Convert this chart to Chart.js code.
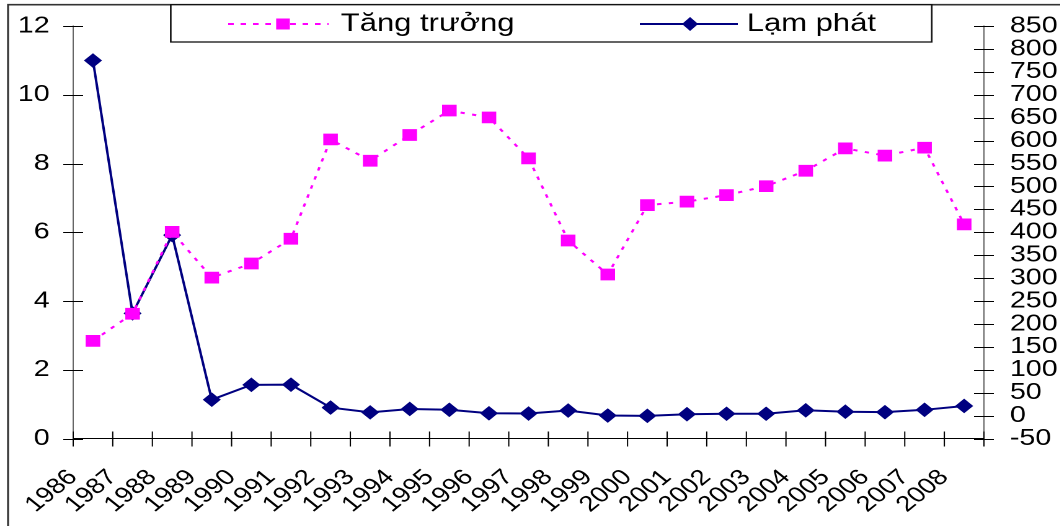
<!DOCTYPE html>
<html>
<head>
<meta charset="utf-8">
<script src="https://cdn.jsdelivr.net/npm/chart.js@4.4.1/dist/chart.umd.min.js"></script>
<style>
  html, body { margin: 0; padding: 0; background: #fff; overflow: hidden; }
  /* the chart is laid out narrower and widened horizontally, giving the wide lettering */
  #wrap { position: absolute; left: 0; top: 0; width: 855px; height: 526px;
          transform: scaleX(1.24); transform-origin: 0 0; }
  #c { display: block; }
</style>
</head>
<body>
<div id="wrap"><canvas id="c" width="855" height="526"></canvas></div>
<script>
// Years on the category axis
const years = ['1986','1987','1988','1989','1990','1991','1992','1993','1994','1995','1996',
               '1997','1998','1999','2000','2001','2002','2003','2004','2005','2006','2007','2008'];

// GDP growth, % (left axis)
const growth = [2.84, 3.63, 6.01, 4.68, 5.09, 5.81, 8.70, 8.08, 8.83, 9.54, 9.34,
                8.15, 5.76, 4.77, 6.79, 6.89, 7.08, 7.34, 7.79, 8.44, 8.23, 8.46, 6.23];

// Inflation, % (right axis)
const inflation = [774.7, 223.1, 393.8, 34.7, 67.1, 67.5, 17.5, 7.0, 14.4, 12.7, 5.0,
                   4.5, 11.0, 0.1, -0.6, 3.0, 4.0, 4.0, 11.5, 8.4, 7.5, 12.6, 21.0];

// Axis ranges
const leftAxis = { min: 0, max: 12, step: 2 };
const rightAxis = { min: -50, max: 850, step: 50 };

const seriesNames = ['Tăng trưởng', 'Lạm phát'];
const MAGENTA = '#FF00FF';
const NAVY = '#000080';
const FONT = '"Liberation Sans", Arial, sans-serif';

// White page with the frame lines along the left and top
const frame = {
  id: 'frame',
  beforeDraw(chart) {
    const ctx = chart.ctx;
    ctx.save();
    ctx.fillStyle = '#fff';
    ctx.fillRect(0, 0, chart.width, chart.height);
    ctx.strokeStyle = '#333';
    ctx.lineWidth = 1.6;
    ctx.beginPath();
    ctx.moveTo(6.5, chart.height + 5);
    ctx.lineTo(6.5, 4.7);
    ctx.lineTo(chart.width + 5, 4.7);
    ctx.stroke();
    ctx.restore();
  }
};

// Tick marks that cross the axis lines
const crossTicks = {
  id: 'crossTicks',
  beforeDatasetsDraw(chart) {
    const ctx = chart.ctx;
    const xs = chart.scales.x, yl = chart.scales.y, yr = chart.scales.y1;
    ctx.save();
    ctx.strokeStyle = '#000';
    ctx.lineWidth = 1;
    ctx.beginPath();
    yl.ticks.forEach((t, i) => {
      const p = Math.round(yl.getPixelForTick(i)) + 0.5;
      ctx.moveTo(yl.right - 8, p); ctx.lineTo(yl.right + 8, p);
    });
    yr.ticks.forEach((t, i) => {
      const p = Math.round(yr.getPixelForTick(i)) + 0.5;
      ctx.moveTo(yr.left - 8, p); ctx.lineTo(yr.left + 8, p);
    });
    const half = (xs.getPixelForValue(1) - xs.getPixelForValue(0)) / 2;
    for (let i = 0; i <= years.length; i++) {
      const p = xs.getPixelForValue(i) - half;
      ctx.moveTo(p, xs.top - 7); ctx.lineTo(p, xs.top + 8);
    }
    ctx.stroke();
    ctx.restore();
  }
};

// Boxed legend drawn over the top of the plot
const boxLegend = {
  id: 'boxLegend',
  afterDraw(chart) {
    const ctx = chart.ctx;
    ctx.save();
    ctx.fillStyle = '#fff';
    ctx.fillRect(137.7, 4.7, 613.7, 37.3);
    ctx.strokeStyle = '#111';
    ctx.lineWidth = 1.3;
    ctx.strokeRect(137.7, 4.7, 613.7, 37.3);

    const ly = 24;
    // growth entry: dotted magenta line with a square
    ctx.strokeStyle = MAGENTA;
    ctx.lineWidth = 2;
    ctx.setLineDash([4.5, 5.5]);
    ctx.beginPath();
    ctx.moveTo(184, ly); ctx.lineTo(265, ly);
    ctx.stroke();
    ctx.setLineDash([]);
    ctx.fillStyle = MAGENTA;
    ctx.fillRect(228.2 - 5.5, ly - 5.5, 11, 11);

    // inflation entry: solid navy line with a diamond
    ctx.strokeStyle = NAVY;
    ctx.lineWidth = 2;
    ctx.beginPath();
    ctx.moveTo(516, ly); ctx.lineTo(595, ly);
    ctx.stroke();
    ctx.fillStyle = NAVY;
    ctx.beginPath();
    ctx.moveTo(556.5 - 6.5, ly); ctx.lineTo(556.5, ly - 7);
    ctx.lineTo(556.5 + 6.5, ly); ctx.lineTo(556.5, ly + 7);
    ctx.closePath();
    ctx.fill();

    ctx.fillStyle = '#000';
    ctx.font = '25px ' + FONT;
    ctx.textBaseline = 'alphabetic';
    ctx.textAlign = 'left';
    ctx.fillText(seriesNames[0], 274.8, 31);
    ctx.fillText(seriesNames[1], 602.2, 31);
    ctx.restore();
  }
};

const CANVAS_W = 855, CANVAS_H = 526;
const PLOT_LEFT = 59, PLOT_RIGHT = 793.5, PLOT_TOP = 26, PLOT_BOTTOM = 438.5;

// Fixed axis band sizes; label overhang is allowed to spill into the margins
function fixBand(s, size) {
  if (s.isHorizontal()) s.height = size; else s.width = size;
  s.paddingTop = 0; s.paddingBottom = 0; s.paddingLeft = 0; s.paddingRight = 0;
}

new Chart(document.getElementById('c'), {
  type: 'line',
  data: {
    labels: years,
    datasets: [
      {
        label: seriesNames[0],
        data: growth,
        yAxisID: 'y',
        borderColor: MAGENTA,
        backgroundColor: MAGENTA,
        borderWidth: 2,
        borderDash: [3.5, 6],
        pointStyle: 'rect',
        pointRadius: 7.6,
        pointBorderWidth: 1,
        pointBorderColor: MAGENTA,
        pointBackgroundColor: MAGENTA,
        tension: 0,
        fill: false
      },
      {
        label: seriesNames[1],
        data: inflation,
        yAxisID: 'y1',
        borderColor: NAVY,
        backgroundColor: NAVY,
        borderWidth: 2,
        pointStyle: 'rectRot',
        pointRadius: 6.6,
        pointBorderWidth: 1,
        pointBorderColor: NAVY,
        pointBackgroundColor: NAVY,
        tension: 0,
        fill: false
      }
    ]
  },
  options: {
    responsive: false,
    devicePixelRatio: 2,
    animation: false,
    events: [],
    layout: { padding: { top: PLOT_TOP, left: 0, right: 0, bottom: 0 } },
    plugins: { legend: { display: false }, tooltip: { enabled: false } },
    scales: {
      x: {
        type: 'category',
        offset: true,
        grid: { display: false, drawTicks: false },
        border: { display: true, color: '#000', width: 1 },
        ticks: {
          color: '#000',
          font: { family: FONT, size: 22 },
          minRotation: 45,
          maxRotation: 45,
          autoSkip: false,
          padding: 26,
          labelOffset: -16
        },
        afterFit(s) { fixBand(s, CANVAS_H - PLOT_BOTTOM); }
      },
      y: {
        position: 'left',
        min: leftAxis.min,
        max: leftAxis.max,
        grid: { display: false, drawTicks: false },
        border: { display: true, color: '#666', width: 1 },
        ticks: {
          stepSize: leftAxis.step,
          autoSkip: false,
          color: '#000',
          font: { family: FONT, size: 23 },
          padding: 19
        },
        afterFit(s) { fixBand(s, PLOT_LEFT); }
      },
      y1: {
        position: 'right',
        min: rightAxis.min,
        max: rightAxis.max,
        grid: { display: false, drawTicks: false },
        border: { display: true, color: '#666', width: 1 },
        ticks: {
          stepSize: rightAxis.step,
          autoSkip: false,
          color: '#000',
          font: { family: FONT, size: 23 },
          padding: 21
        },
        afterFit(s) { fixBand(s, CANVAS_W - PLOT_RIGHT); }
      }
    }
  },
  plugins: [frame, crossTicks, boxLegend]
});
</script>
</body>
</html>
